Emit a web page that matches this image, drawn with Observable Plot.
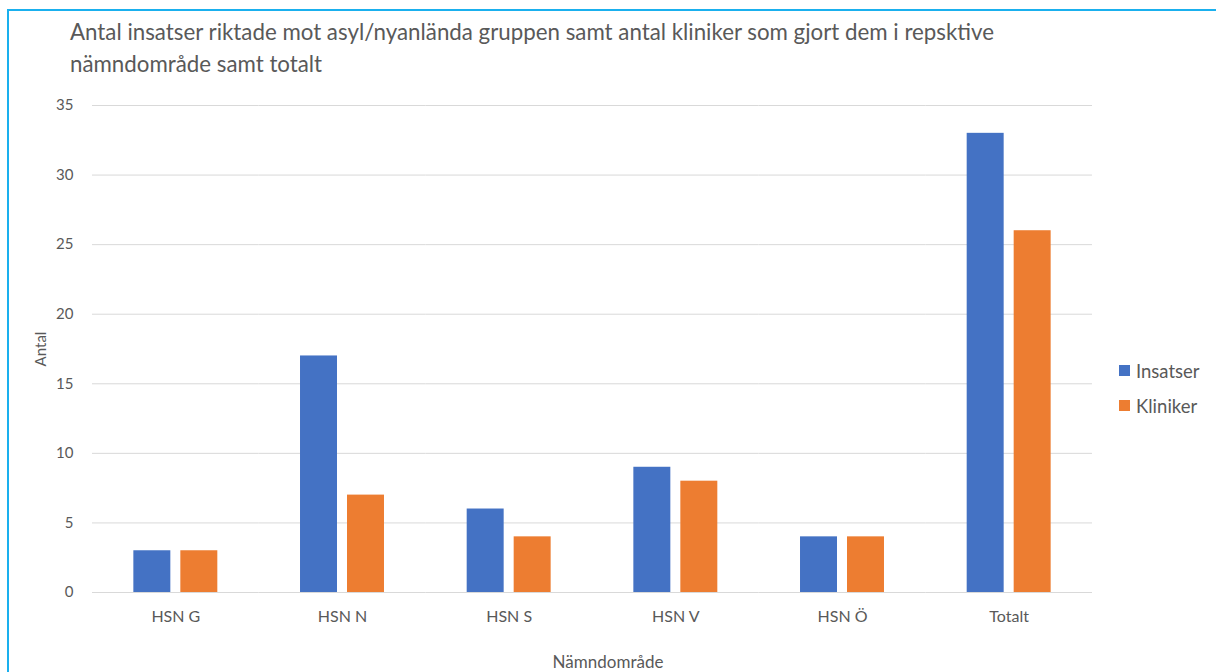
<!DOCTYPE html>
<html><head><meta charset="utf-8">
<script src="https://cdn.jsdelivr.net/npm/d3@7"></script>
<script src="https://cdn.jsdelivr.net/npm/@observablehq/plot@0.6"></script>
<style>
body{margin:0;width:1216px;height:672px;overflow:hidden;background:#fff;position:relative;font-family:Lato,sans-serif;}
#frame{position:absolute;left:7px;top:9px;width:1400px;height:900px;border:2px solid #1ab0ee;box-sizing:border-box;}
#title{position:absolute;left:70px;top:16px;font-size:22.3px;color:#595959;line-height:32px;white-space:nowrap;}
#chart{position:absolute;left:0;top:0;}
#legend{position:absolute;left:1119px;top:353px;font-size:18.5px;color:#595959;}
#xlabel{position:absolute;left:0;width:1216px;padding-left:0;top:651px;font-size:17px;color:#595959;}
#xlabel span{position:absolute;left:608px;transform:translateX(-50%);white-space:nowrap;}
.item{display:flex;align-items:center;height:35px;}
.sw{width:11px;height:11px;margin-right:6px;}
</style></head>
<body>
<div id="frame"></div>
<div id="chart"></div>
<div id="title">Antal insatser riktade mot asyl/nyanlända gruppen samt antal kliniker som gjort dem i repsktive<br>nämndområde samt totalt</div>
<div id="xlabel"><span>Nämndområde</span></div>
<div id="legend"></div>
<script>
const categories = ["HSN G","HSN N","HSN S","HSN V","HSN Ö","Totalt"];
const series = ["Insatser","Kliniker"];
const insatser = [3,17,6,9,4,33];
const kliniker = [3,7,4,8,4,26];
const yTicks = [0,5,10,15,20,25,30,35];
const colors = ["#4472C4","#ED7D31"];

const data = [];
categories.forEach((c,i)=>{
  data.push({cat:c,series:"Insatser",value:insatser[i]});
  data.push({cat:c,series:"Kliniker",value:kliniker[i]});
});

const chart = Plot.plot({
  width:1216,height:672,
  marginTop:105,marginBottom:80,marginLeft:92,marginRight:124,
  style:{fontFamily:"Lato, sans-serif",color:"#595959",background:"transparent"},
  fx:{domain:categories,padding:0,round:false,axis:null},
  x:{domain:series,paddingInner:0.213,paddingOuter:0.88,round:false,axis:null},
  y:{domain:[0,35]},
  color:{domain:series,range:colors},
  marks:[
    Plot.gridY(yTicks,{stroke:"#d9d9d9",strokeOpacity:1,strokeWidth:1}),
    Plot.barY(data,{fx:"cat",x:"series",y:"value",fill:"series"}),
    Plot.axisY(yTicks,{tickSize:0,tickPadding:19,fontSize:15,label:"Antal",labelAnchor:"center",labelArrow:false,labelOffset:57}),
    Plot.axisFx({anchor:"bottom",tickSize:0,tickPadding:18,fontSize:16,label:null})
  ]
});
document.getElementById("chart").appendChild(chart);

const leg = document.getElementById("legend");
series.forEach((s,i)=>{
  const d=document.createElement("div");d.className="item";
  const sw=document.createElement("div");sw.className="sw";sw.style.background=colors[i];
  d.appendChild(sw);d.appendChild(document.createTextNode(s));leg.appendChild(d);
});
</script>
</body></html>
